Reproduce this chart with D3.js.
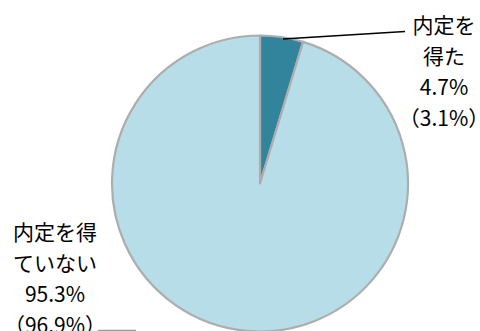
<!DOCTYPE html>
<html>
<head>
<meta charset="utf-8">
<script src="https://cdn.jsdelivr.net/npm/d3@7"></script>
<style>
  html, body { margin: 0; padding: 0; background: #fff; }
  svg { display: block; }
  text { font-family: "Noto Sans CJK JP", sans-serif; fill: #000; }
</style>
</head>
<body>
<svg id="chart" width="480" height="331"></svg>
<script>
// 内定状況の内訳（括弧内は前年）
const categories = ["内定を得た", "内定を得ていない"];
const values = [4.7, 95.3];
const previous = [3.1, 96.9];
const labelLines = [["内定を", "得た"], ["内定を得", "ていない"]];
const colors = ["#31849B", "#B7DDE8"];

const svg = d3.select("#chart");
const cx = 260, cy = 183.5, r = 148;

const pie = d3.pie().sort(null).value(d => d.value);
const arc = d3.arc().innerRadius(0).outerRadius(r);

const data = categories.map((c, i) => ({ name: c, value: values[i], prev: previous[i], lines: labelLines[i], color: colors[i] }));

const g = svg.append("g").attr("transform", `translate(${cx},${cy})`);
g.selectAll("path")
  .data(pie(data))
  .join("path")
  .attr("d", arc)
  .attr("fill", d => d.data.color)
  .attr("stroke", "#ADADAD")
  .attr("stroke-width", 2.2)
  .attr("stroke-linejoin", "round");

// ラベル位置
const labelPos = [
  { x: 444, y: 24, leader: [[283, 39], [405, 31.5]], stroke: "#000" },
  { x: 55, y: 231, leader: [[98, 330.5], [136, 330.5]], stroke: "#999" }
];

const fmt = v => v.toFixed(1) + "%";
data.forEach((d, i) => {
  const p = labelPos[i];
  const rows = [...d.lines, fmt(d.value), "（" + fmt(d.prev) + "）"];
  const t = svg.append("text")
    .attr("text-anchor", "middle")
    .attr("font-size", 21);
  rows.forEach((row, k) => {
    t.append("tspan")
      .attr("x", p.x)
      .attr("y", p.y + k * 31)
      .attr("dominant-baseline", "central")
      .text(row);
  });
  svg.append("path")
    .attr("d", d3.line()(p.leader))
    .attr("stroke", p.stroke)
    .attr("stroke-width", 1.5)
    .attr("fill", "none");
});
</script>
</body>
</html>
